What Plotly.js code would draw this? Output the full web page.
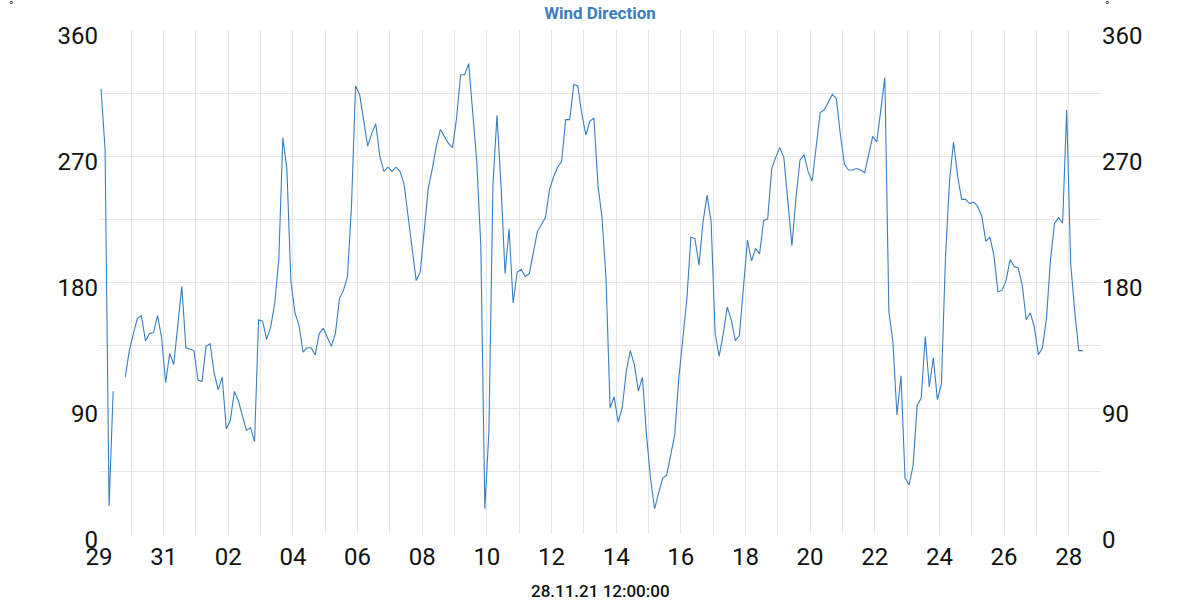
<!DOCTYPE html>
<html>
<head>
<meta charset="utf-8">
<script src="https://cdn.plot.ly/plotly-3.0.1.min.js"></script>
<style>
  html, body { margin: 0; padding: 0; background: #ffffff; }
  #chart { width: 1200px; height: 600px; }
</style>
</head>
<body>
<div id="chart"></div>
<script>
// Wind direction readings (degrees), one every 3 hours starting 29.10.21 01:30
const startTime = "2021-10-29T01:30:00";
const stepHours = 3;
const windDirection = [
  318, 275, 20, 102, null, null, 112, 131, 143, 154,
  156, 138, 143, 144, 156, 140, 108, 129, 121, 150,
  177, 133, 132, 131, 110, 109, 134, 136, 115, 103,
  112, 75, 81, 102, 95, 85, 74, 76, 66, 153,
  152, 139, 148, 165, 196, 283, 261, 180, 158, 149,
  130, 133, 133, 128, 143, 147, 140, 134, 143, 168,
  174, 184, 235, 320, 314, 297, 277, 286, 293, 270,
  259, 262, 259, 262, 259, 250, 226, 206, 181, 187,
  216, 247, 261, 277, 289, 284, 279, 276, 297, 328,
  328, 336, 300, 266, 206, 18, 73, 249, 299, 249,
  186, 218, 165, 187, 189, 184, 186, 202, 216, 221,
  226, 246, 255, 262, 266, 296, 296, 321, 320, 300,
  285, 295, 297, 249, 226, 182, 90, 98, 80, 90,
  116, 131, 121, 102, 112, 71, 40, 18, 29, 40,
  42, 56, 71, 111, 142, 168, 212, 211, 192, 223,
  242, 223, 143, 127, 143, 162, 153, 138, 142, 176,
  210, 195, 204, 200, 224, 225, 261, 269, 276, 269,
  237, 206, 240, 267, 271, 259, 252, 277, 301, 303,
  308, 314, 311, 285, 264, 260, 260, 261, 260, 258,
  271, 284, 280, 303, 326, 159, 137, 85, 113, 40,
  35, 49, 92, 97, 141, 105, 126, 96, 107, 197,
  252, 280, 256, 239, 239, 236, 237, 234, 227, 209,
  212, 199, 173, 174, 181, 196, 191, 190, 178, 153,
  158, 148, 128, 133, 154, 196, 222, 226, 222, 303,
  193, 159, 131, 131
];
const yTicks = [0, 90, 180, 270, 360];
const xRange = ["2021-10-29 00:00", "2021-11-29 00:00"];
const chartTitle = "Wind Direction";
const unitLabel = "°";
const cursorLabel = "28.11.21 12:00:00";

function pad(n) { return String(n).padStart(2, "0"); }
const t0 = new Date(startTime + "Z").getTime();
const times = windDirection.map((_, i) => {
  const d = new Date(t0 + i * stepHours * 3600000);
  return d.getUTCFullYear() + "-" + pad(d.getUTCMonth() + 1) + "-" + pad(d.getUTCDate()) +
    " " + pad(d.getUTCHours()) + ":" + pad(d.getUTCMinutes());
});

const gridCol = "#e6e6e6";
const tickFont = { family: "Roboto, 'DejaVu Sans', sans-serif", size: 24, color: "#111111" };

const traces = [
  {
    x: times, y: windDirection, type: "scatter", mode: "lines",
    line: { color: "#3a7ebf", width: 1.1 },
    connectgaps: false, hoverinfo: "x+y", showlegend: false
  },
  { x: [], y: [], yaxis: "y2", type: "scatter", mode: "lines", showlegend: false, hoverinfo: "skip" }
];

const yCommon = {
  range: [0, 360], tickvals: yTicks, ticktext: yTicks.map(String),
  showgrid: true, gridcolor: gridCol, gridwidth: 1, zeroline: false,
  tickfont: tickFont, ticks: "", ticklabelstandoff: 0, ticklabelshift: 6, fixedrange: true,
  automargin: false,
  minor: { dtick: 45, showgrid: true, gridcolor: gridCol, gridwidth: 1, ticks: "" }
};

const layout = {
  width: 1200, height: 600,
  margin: { l: 99, r: 99, t: 30, b: 66, pad: 0 },
  paper_bgcolor: "#ffffff", plot_bgcolor: "#ffffff",
  font: { family: "Roboto, 'DejaVu Sans', sans-serif" },
  title: {
    text: "<b>" + chartTitle + "</b>",
    font: { family: "Roboto, sans-serif", size: 17, color: "#3a7ebf" },
    x: 0.5, xanchor: "center", y: 0.978, yanchor: "middle", xref: "paper"
  },
  xaxis: {
    type: "date", range: xRange,
    tick0: "2021-10-29", dtick: 2 * 86400000, tickformat: "%d",
    showgrid: true, gridcolor: gridCol, gridwidth: 1, zeroline: false,
    ticks: "outside", ticklen: 1, tickcolor: "rgba(0,0,0,0)",
    tickfont: tickFont, automargin: false,
    minor: { dtick: 86400000, showgrid: true, gridcolor: gridCol, gridwidth: 1, ticks: "" }
  },
  yaxis: Object.assign({ side: "left" }, yCommon),
  yaxis2: Object.assign({ side: "right", overlaying: "y", anchor: "x" }, yCommon, { showgrid: false, minor: { showgrid: false } }),
  annotations: [
    { text: unitLabel, xref: "paper", yref: "paper", x: -0.0875, y: 1.047, xanchor: "center", yanchor: "middle",
      showarrow: false, font: { size: 12, color: "#333333" } },
    { text: unitLabel, xref: "paper", yref: "paper", x: 1.0058, y: 1.047, xanchor: "center", yanchor: "middle",
      showarrow: false, font: { size: 12, color: "#333333" } },
    { text: cursorLabel, xref: "paper", yref: "paper", x: 0.5, y: -0.113, xanchor: "center", yanchor: "middle",
      showarrow: false, font: { family: "Roboto, sans-serif", size: 17, color: "#111111", weight: 500 } }
  ],
  showlegend: false
};

Plotly.newPlot("chart", traces, layout, { displayModeBar: false, staticPlot: true });
</script>
</body>
</html>
